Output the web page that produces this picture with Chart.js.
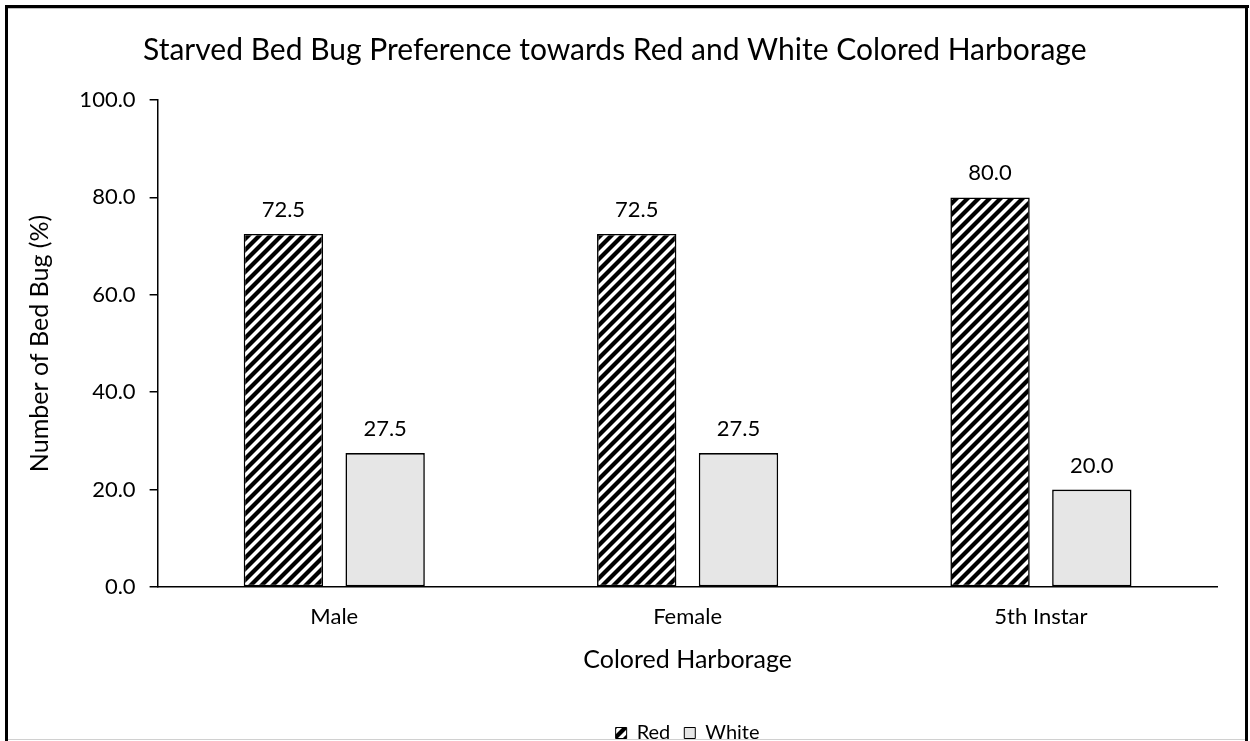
<!DOCTYPE html>
<html>
<head>
<meta charset="utf-8">
<script src="https://cdn.jsdelivr.net/npm/chart.js@4/dist/chart.umd.min.js"></script>
<style>
  html, body { margin: 0; padding: 0; background: #fff; overflow: hidden; }
  #wrap { width: 1250px; height: 741px; overflow: hidden; position: relative; }
  canvas { display: block; }
</style>
</head>
<body>
<div id="wrap"><canvas id="chart" width="1250" height="753"></canvas></div>
<script>
// Chart data
const categories = ['Male', 'Female', '5th Instar'];
const redValues = [72.5, 72.5, 80.0];
const whiteValues = [27.5, 27.5, 20.0];
const seriesNames = ['Red', 'White'];
const yMin = 0, yMax = 100, yStep = 20;

const FONT = 'Lato, "Liberation Sans", sans-serif';

// Diagonal hatch ("/") used for the Red series
function makeHatch() {
  const s = 11;
  const c = document.createElement('canvas');
  c.width = s; c.height = s;
  const g = c.getContext('2d');
  g.fillStyle = '#fff';
  g.fillRect(0, 0, s, s);
  g.strokeStyle = '#000';
  g.lineWidth = 4.2;
  g.lineCap = 'square';
  for (let k = -1; k <= 1; k++) {
    g.beginPath();
    g.moveTo(k * s - 1, s + 1);
    g.lineTo(k * s + s + 1, -1);
    g.stroke();
  }
  return g.createPattern(c, 'repeat');
}

const ctx = document.getElementById('chart').getContext('2d');
const hatch = makeHatch();

// Outer frame of the figure
const framePlugin = {
  id: 'frame',
  afterDraw(chart) {
    const g = chart.ctx;
    g.save();
    g.fillStyle = '#000';
    g.fillRect(5, 5, 1244, 3);   // top
    g.fillRect(5, 5, 3, 748);    // left
    g.fillRect(1245, 5, 3, 748); // right
    g.fillStyle = '#bfbfbf';
    g.fillRect(8, 8, 1237, 1);
    g.fillStyle = '#d0d0d0';
    g.fillRect(8, 739, 1237, 1);
    g.restore();
  }
};

// Value labels above every bar
const valueLabels = {
  id: 'valueLabels',
  afterDatasetsDraw(chart) {
    const g = chart.ctx;
    g.save();
    g.font = '22px ' + FONT;
    g.fillStyle = '#000';
    g.textAlign = 'center';
    g.textBaseline = 'middle';
    chart.data.datasets.forEach((ds, i) => {
      chart.getDatasetMeta(i).data.forEach((bar, j) => {
        g.fillText(Number(ds.data[j]).toFixed(1), bar.x, bar.y - 24);
      });
    });
    g.restore();
  }
};

new Chart(ctx, {
  type: 'bar',
  data: {
    labels: categories,
    datasets: [
      {
        label: seriesNames[0],
        data: redValues,
        backgroundColor: hatch,
        borderColor: '#000',
        borderWidth: 1.6,
        borderSkipped: false
      },
      {
        label: seriesNames[1],
        data: whiteValues,
        backgroundColor: '#e6e6e6',
        borderColor: '#000',
        borderWidth: 1.6,
        borderSkipped: false
      }
    ]
  },
  options: {
    responsive: false,
    animation: false,
    devicePixelRatio: 1,
    layout: { padding: { left: 12, right: 32.4, top: 10, bottom: 0 } },
    datasets: { bar: { categoryPercentage: 0.576, barPercentage: 0.78 } },
    plugins: {
      title: {
        display: true,
        text: 'Starved Bed Bug Preference towards Red and White Colored Harborage',
        color: '#000',
        font: { family: FONT, size: 30, weight: 'normal' },
        padding: { top: 22, bottom: 32 }
      },
      legend: {
        display: true,
        position: 'bottom',
        fullSize: false,
        labels: {
          color: '#000',
          font: { family: FONT, size: 20 },
          boxWidth: 11,
          boxHeight: 11,
          padding: 14,
          generateLabels(chart) {
            return chart.data.datasets.map((ds, i) => ({
              text: ds.label,
              fillStyle: ds.backgroundColor,
              strokeStyle: '#000',
              lineWidth: 1,
              datasetIndex: i,
              hidden: false
            }));
          }
        }
      },
      tooltip: { enabled: false }
    },
    scales: {
      x: {
        grid: { display: false },
        border: { display: true, color: '#000', width: 1.5 },
        ticks: { color: '#000', font: { family: FONT, size: 22 }, padding: 9 },
        title: {
          display: true,
          text: 'Colored Harborage',
          color: '#000',
          font: { family: FONT, size: 25 },
          padding: { top: 10, bottom: 34 }
        },
        afterFit(scale) { scale.height = 122; }
      },
      y: {
        min: yMin,
        max: yMax,
        grid: { display: true, drawOnChartArea: false, drawTicks: true, tickLength: 8, color: '#000', lineWidth: 1.5 },
        border: { display: true, color: '#000', width: 1.5 },
        ticks: {
          stepSize: yStep,
          color: '#000',
          font: { family: FONT, size: 22 },
          padding: 14,
          callback: v => Number(v).toFixed(1)
        },
        title: {
          display: true,
          text: 'Number of Bed Bug (%)',
          color: '#000',
          font: { family: FONT, size: 25 },
          padding: { top: 13, bottom: 8 }
        },
        afterFit(scale) { scale.width = 145.6; }
      }
    }
  },
  plugins: [valueLabels, framePlugin]
});
</script>
</body>
</html>
